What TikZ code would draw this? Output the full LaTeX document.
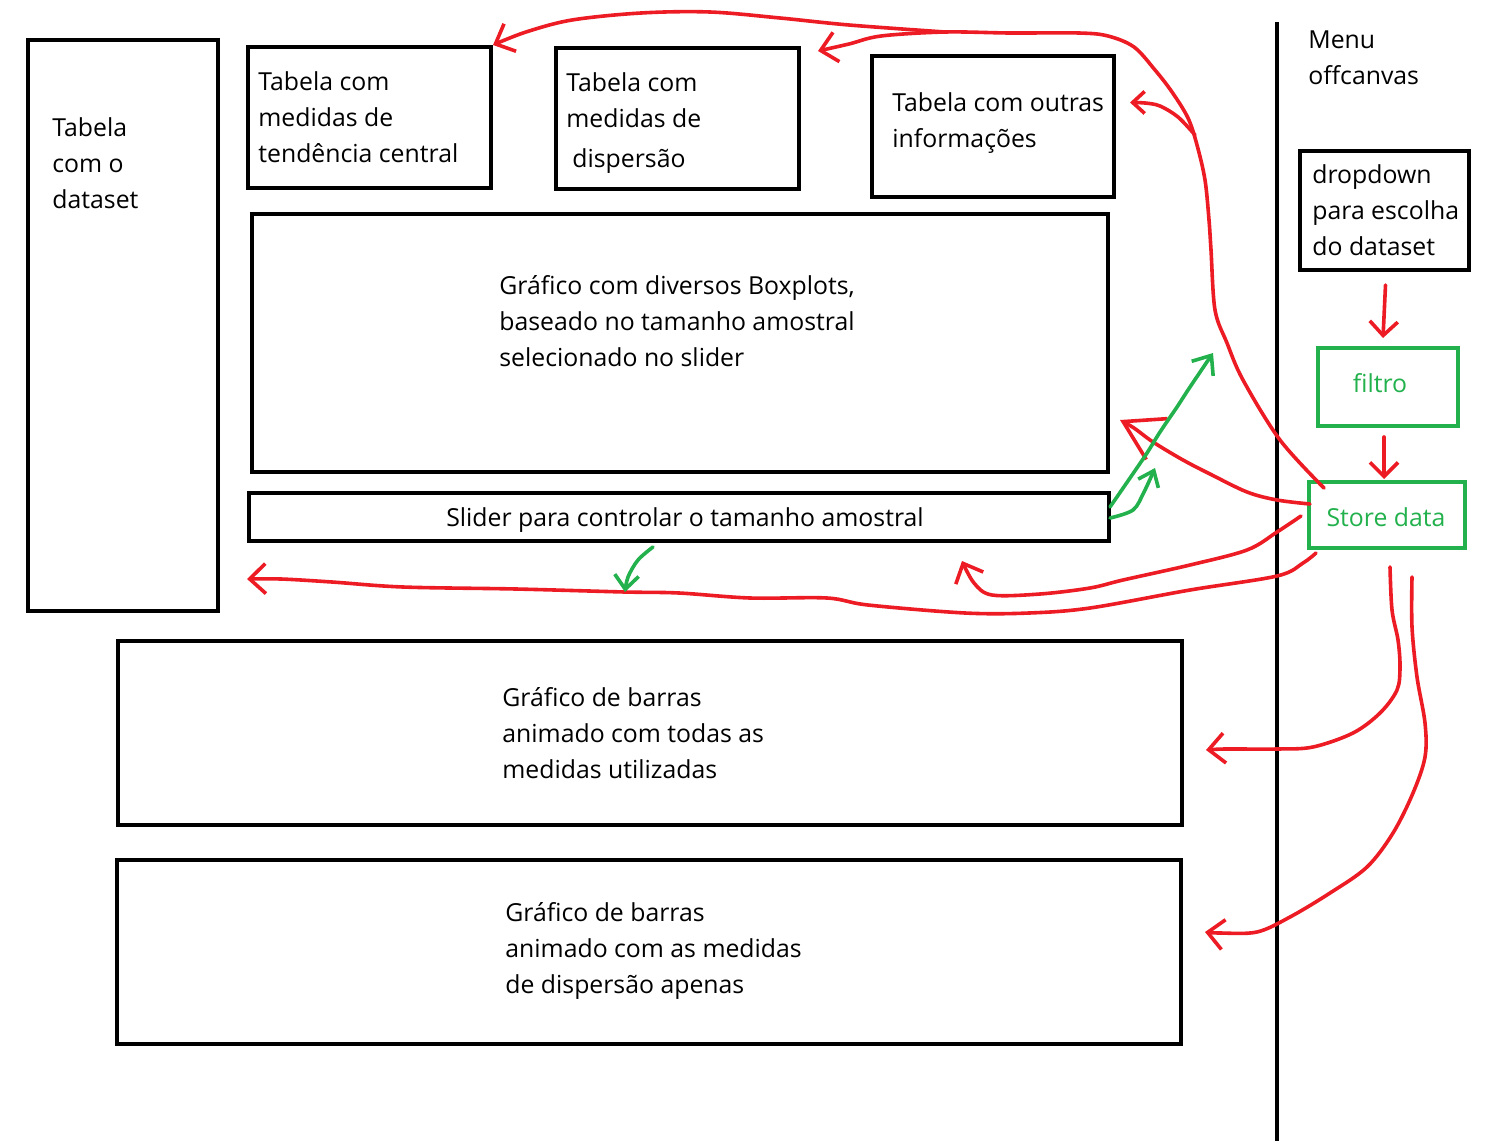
\documentclass[tikz,border=0pt]{standalone}
\usepackage{fontspec}
\setmainfont{Open Sans}
\usetikzlibrary{arrows.meta,fit}
\definecolor{pred}{RGB}{237,28,36}
\definecolor{pgreen}{RGB}{34,177,76}
\begin{document}
\begin{tikzpicture}[x=0.5pt,y=-0.5pt,
  box/.style={draw=black,line width=2pt,inner sep=0pt},
  gbox/.style={draw=pgreen,line width=2pt,inner sep=0pt},
  % multi-line labels are placed by the baseline of their last line
  txt/.style={anchor=base west,inner sep=0pt,align=left,
    font=\fontsize{12.4}{18}\selectfont},
  ctxt/.style={txt,anchor=base},
  wire/.style={line width=1.8pt,line cap=round,line join=round},
  rarrow/.style={wire,draw=pred,-{Straight Barb[length=8pt,width=15pt]}},
  garrow/.style={wire,draw=pgreen,-{Straight Barb[length=8pt,width=13pt]}},
  curve/.style={smooth,tension=0.55}]
\useasboundingbox (0,0) rectangle (1494,1141);
\fill[white] (0,0) rectangle (1494,1141);

% page layout boxes
\node[box,fit={(28,40)(218,611)}] (dataset) {};
\node[box,fit={(248,47)(491,188)}] (tendencia) {};
\node[box,fit={(556,48)(799,189)}] (dispersao) {};
\node[box,fit={(872,56)(1114,197)}] (outras) {};
\node[box,fit={(252,214)(1108,472)}] (boxplots) {};
\node[box,fit={(249,493)(1109,541)}] (slider) {};
\node[box,fit={(118,641)(1182,825)}] (barras1) {};
\node[box,fit={(117,860)(1181,1044)}] (barras2) {};

% offcanvas menu
\draw[line width=2pt] (1277,22) -- (1277,1141);
\node[box,fit={(1300,151)(1469,270)}] (dropdown) {};
\node[gbox,fit={(1318,348)(1458,426)}] (filtro) {};
\node[gbox,fit={(1309,482)(1465,548)}] (store) {};

% labels
\node[txt] (l-dataset) at (52,208) {Tabela\\com o\\dataset};
\node[txt] (l-tendencia) at (258,162) {Tabela com\\medidas de\\tendência central};
\node[txt] (l-dispersao) at (566,167) {Tabela com\\medidas de\\[2pt]\hspace{3pt}dispersão};
\node[txt] (l-outras) at (892,147) {Tabela com outras\\informações};
\node[txt] (l-boxplots) at (499,366) {Gráfico com diversos Boxplots,\\baseado no tamanho amostral\\selecionado no slider};
\node[ctxt] (l-slider) at (685,526) {Slider para controlar o tamanho amostral};
\node[txt] (l-barras1) at (502,778) {Gráfico de barras\\animado com todas as\\medidas utilizadas};
\node[txt] (l-barras2) at (505,993) {Gráfico de barras\\animado com as medidas\\de dispersão apenas};
\node[txt] (l-menu) at (1308,84) {Menu\\offcanvas};
\node[txt] (l-dropdown) at (1312,255) {dropdown\\para escolha\\do dataset};
\node[ctxt,text=pgreen] (l-filtro) at (1380,392) {filtro};
\node[ctxt,text=pgreen] (l-store) at (1386,526) {Store data};

% connector ends
\coordinate (sA) at ([shift={(17,8)}]store.north west);
\coordinate (sB) at ([shift={(3,24)}]store.north west);
\coordinate (sC) at ([shift={(-6,36)}]store.north west);
\coordinate (sD) at ([shift={(9,3)}]store.south west);
\coordinate (sE) at ([shift={(3,17)}]store.south);
\coordinate (sF) at ([shift={(25,27)}]store.south);
\coordinate (jA) at (1195,135);
\coordinate (jB) at (945,32);
\coordinate (tOutras) at ([shift={(14,-24)}]outras.east);
\coordinate (tDisp) at ([shift={(17,5)}]dispersao.north east);
\coordinate (tTend) at (tendencia.north east);
\coordinate (tBox) at ([shift={(10,77)}]boxplots.east);
\coordinate (tSlider) at ([shift={(-149,18)}]slider.south east);
\coordinate (tDataset) at ([shift={(27,-34)}]dataset.south east);
\coordinate (tBar1) at ([shift={(22,17)}]barras1.east);
\coordinate (tBar2) at ([shift={(22,-20)}]barras2.east);

% data flow from the store
\draw[rarrow] plot[curve] coordinates {(sA) (1280,440) (1243,380) (1227,343) (1215,310)
  (1211,250) (1209,220) (1205,180) (1197,145) (1188,118) (1172,92) (1155,70) (1134,47)
  (1108,36) (1079,33) (1010,33) (jB) (881,36) (849,44) (tDisp)};
\draw[rarrow,-{Straight Barb[length=6pt,width=11pt]}] plot[curve] coordinates {(jA) (1178,117) (1160,106) (1145,103) (tOutras)};
\draw[rarrow] plot[curve] coordinates {(jB) (849,25) (780,18) (710,12) (641,13) (572,20) (526,32) (tTend)};
\draw[rarrow,-{Straight Barb[length=19pt,width=23pt]}] plot[curve] coordinates {(sB) (1277,500) (1247,492) (1210,474) (1183,460) (1153,442) (1134,428) (tBox)};
\draw[rarrow] plot[curve] coordinates {(sC) (1277,532) (1247,550) (1190,565) (1123,580) (1090,588)
  (1040,594) (992,595) (974,583) (tSlider)};
\draw[rarrow] plot[curve] coordinates {(sD) (1303,563) (1277,576) (1190,590) (1090,608) (1029,613)
  (965,613) (868,605) (827,598) (750,598) (679,593) (625,592) (516,589) (403,587) (332,582)
  (281,579) (tDataset)};
\draw[rarrow] plot[curve] coordinates {(sE) (1392,610) (1398,640) (1400,667) (1397,690) (1380,713)
  (1353,733) (1313,747) (1277,749) (1225,749) (tBar1)};
\draw[rarrow] plot[curve] coordinates {(sF) (1412,627) (1417,677) (1425,723) (1425,757) (1413,793)
  (1393,833) (1367,867) (1330,893) (1290,917) (1257,932) (1220,933) (tBar2)};
\draw[rarrow,-{Straight Barb[length=7pt,width=14pt]}] ([shift={(1,13)}]dropdown.south) -- ([shift={(-5,-8)}]filtro.north);
\draw[rarrow,-{Straight Barb[length=7pt,width=14pt]}] ([shift={(-4,9)}]filtro.south) -- ([shift={(-3,-1)}]store.north);

% slider interactions
\coordinate (gUp) at (1213,353);
\coordinate (gSmall) at (1155,468);
\coordinate (gDown) at (625,592);
\draw[garrow] plot[curve] coordinates {([shift={(-1,-10)}]slider.east) (1130,478) (1147,453) (1160,432) (1177,407) (1190,387) (gUp)};
\draw[garrow,-{Straight Barb[length=7pt,width=11pt]}] plot[curve] coordinates {([shift={(-1,1)}]slider.east) (1133,510) (1144,492) (gSmall)};
\draw[garrow,-{Straight Barb[length=7pt,width=12pt]}] plot[curve] coordinates {([shift={(-26,4)}]slider.south) (638,560) (628,577) (gDown)};
\end{tikzpicture}
\end{document}
